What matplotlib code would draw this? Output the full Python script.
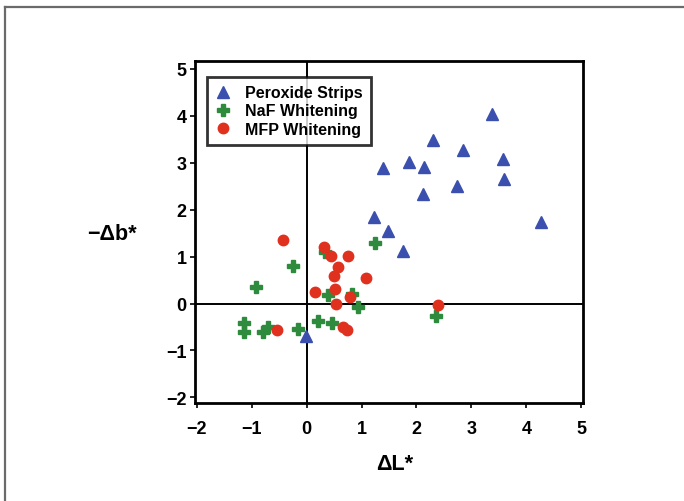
import matplotlib
matplotlib.use("Agg")
import matplotlib.pyplot as plt
from matplotlib.lines import Line2D

plt.rcParams['font.family'] = ['Liberation Sans', 'DejaVu Sans']

# Data
perox_x = [3.38, 2.30, 2.85, 3.57, 1.39, 1.87, 2.13, 3.59, 2.74, 2.12, 4.27, 1.22, 1.48, 1.76, -0.01]
perox_y = [4.05, 3.48, 3.27, 3.09, 2.89, 3.02, 2.91, 2.65, 2.50, 2.34, 1.73, 1.84, 1.54, 1.12, -0.70]

naf_x = [1.24, -0.24, -0.92, 0.39, 0.82, 0.94, -1.14, -1.14, -0.80, -0.70, -0.15, 0.20, 0.47, 0.33, 2.36]
naf_y = [1.29, 0.81, 0.36, 0.18, 0.21, -0.07, -0.41, -0.61, -0.61, -0.50, -0.55, -0.37, -0.41, 1.10, -0.27]

mfp_x = [-0.43, 0.32, 0.44, 0.76, 0.57, 0.50, 1.08, 0.51, 0.16, 0.79, 0.53, -0.53, 0.67, 0.74, 2.39]
mfp_y = [1.36, 1.20, 1.02, 1.01, 0.78, 0.59, 0.55, 0.32, 0.25, 0.14, -0.02, -0.57, -0.50, -0.56, -0.04]

series_labels = ["Peroxide Strips", "NaF Whitening", "MFP Whitening"]
ticks = [-2, -1, 0, 1, 2, 3, 4, 5]

W, H = 684, 502
fig = plt.figure(figsize=(W / 100, H / 100), dpi=100)
fig.patch.set_facecolor('white')
# partial outer frame (top and left edges)
fig.lines.append(Line2D([5 / W, 1.0], [1 - 8 / H, 1 - 8 / H], transform=fig.transFigure,
                        color='#6a6a6a', lw=1.6))
fig.lines.append(Line2D([5 / W, 5 / W], [0.0, 1 - 8 / H], transform=fig.transFigure,
                        color='#6a6a6a', lw=1.6))

ax = fig.add_axes([195 / W, (H - 404) / H, 388 / W, 342.5 / H])
ax.axhline(0, color='black', lw=1.4, zorder=1)
ax.axvline(0, color='black', lw=1.4, zorder=1)

ax.plot(perox_x, perox_y, linestyle='none', marker='^', ms=8, color='#3b4fae',
        label=series_labels[0], zorder=3)
ax.plot(naf_x, naf_y, linestyle='none', marker='P', ms=9, color='#2e8b3e',
        label=series_labels[1], zorder=3)
ax.plot(mfp_x, mfp_y, linestyle='none', marker='o', ms=7.5, color='#e0301e',
        label=series_labels[2], zorder=4)

ax.set_xlim(-2.03, 5.03)
ax.set_ylim(-2.12, 5.18)
ax.set_xticks(ticks)
ax.set_yticks(ticks)
ax.set_xticklabels([str(t).replace('-', '\u2212') for t in ticks])
ax.set_yticklabels([str(t).replace('-', '\u2212') for t in ticks])
ax.tick_params(direction='out', length=3.5, width=1.2, labelsize=13)
ax.tick_params(axis='x', pad=9)
ax.tick_params(axis='y', pad=2.5)
for lab in ax.get_xticklabels() + ax.get_yticklabels():
    lab.set_fontweight('bold')
for s in ax.spines.values():
    s.set_linewidth(2)

leg = ax.legend(loc='upper left', bbox_to_anchor=(0.031, 0.951), borderaxespad=0,
                frameon=True, fancybox=False, edgecolor='black', handlelength=1.0,
                handletextpad=0.9, borderpad=0.5, labelspacing=0.2,
                prop={'weight': 'bold', 'size': 11.5})
leg.get_frame().set_linewidth(2)

fig.text(395 / W, 1 - 465 / H, '\u0394L*', ha='center', va='center',
         fontsize=15.5, fontweight='bold')
fig.text(112 / W, 1 - 235 / H, '\u2212\u0394b*', ha='center', va='center',
         fontsize=15.5, fontweight='bold')

fig.savefig('out.png', dpi=100)
